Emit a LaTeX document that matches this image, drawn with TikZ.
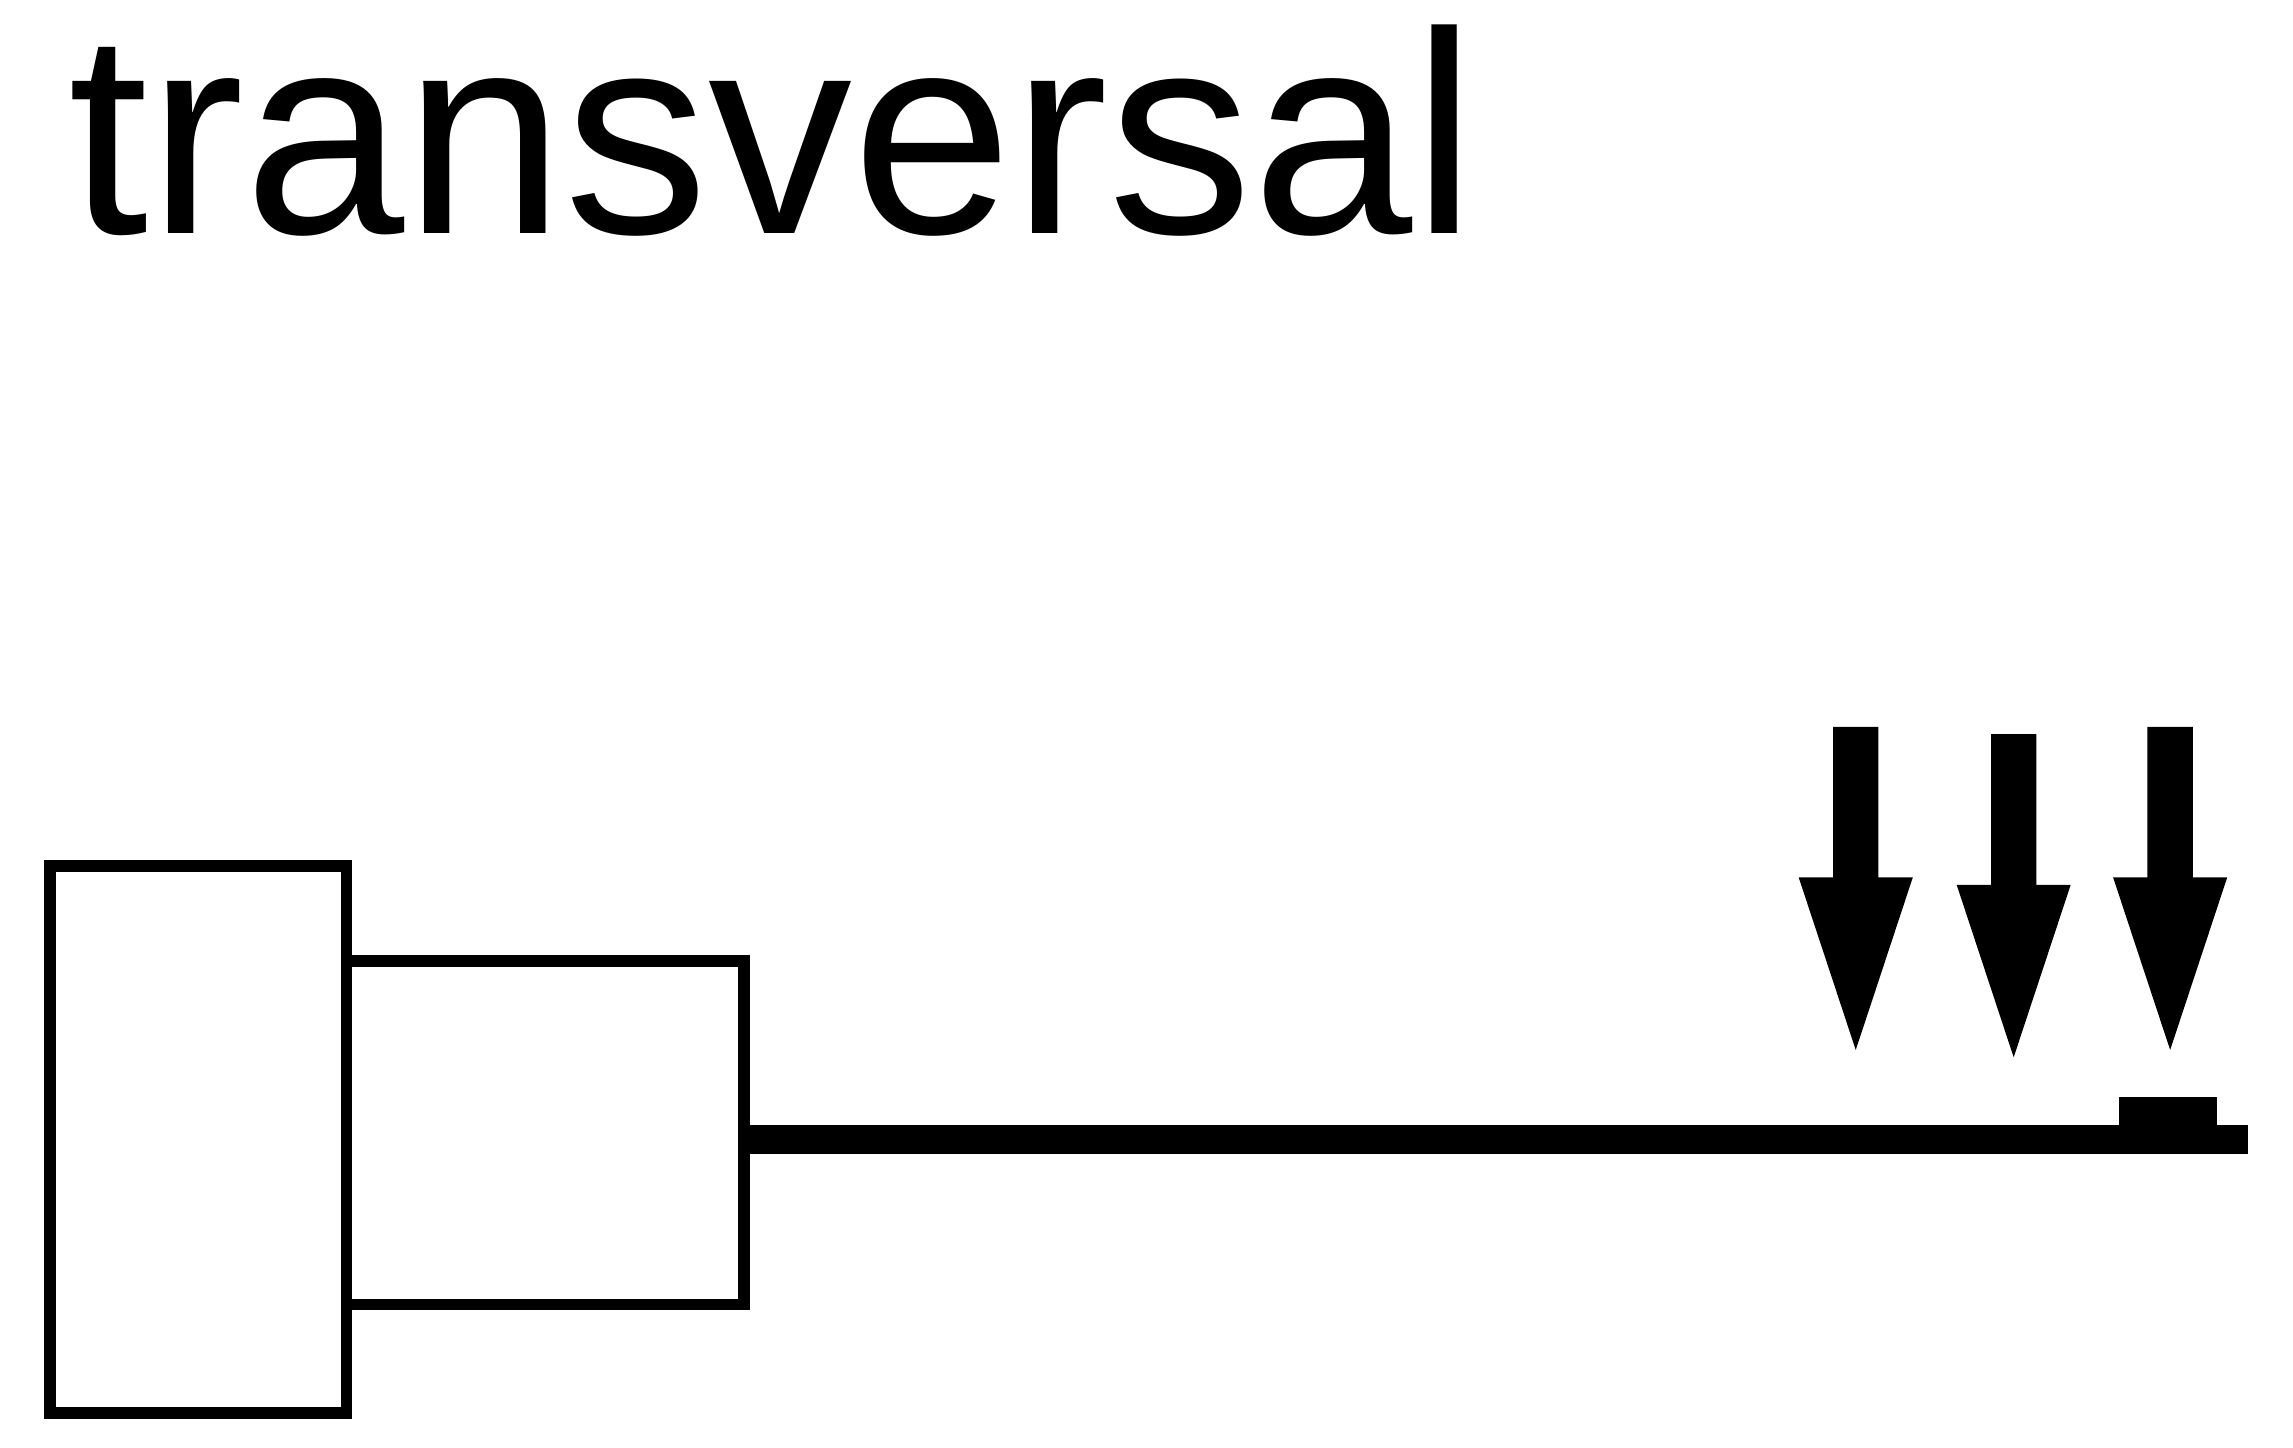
\documentclass[tikz,border=0pt]{standalone}
\usepackage{fontspec}
\setmainfont{Liberation Sans}
\tikzset{
  frame/.style={draw=black,line width=0.08cm},
  shaft/.style={fill=black},
  load/.style={fill=black}
}
\begin{document}
\begin{tikzpicture}[x=0.01cm,y=-0.01cm]
        \useasboundingbox (0,0) rectangle (1568,990);

        % title
        \node[anchor=base west,inner sep=0pt,font=\fontsize{56}{60}\selectfont] (title) at (46,160) {transversal};

        % bearing blocks
        \draw[frame] (34,592) rectangle (237,966);
        \draw[frame] (237,657) rectangle (509,892);

        % beam
        \fill[shaft] (509,769) rectangle (1537,789);
        \fill[shaft] (1449,750) rectangle (1516,779);

        % loads
        \foreach \x/\t in {1269/497, 1377/502, 1484/497}{
            \fill[load] (\x-15.5,\t) -- (\x+15.5,\t) -- (\x+15.5,\t+103) -- (\x+39,\t+103)
                -- (\x,\t+221) -- (\x-39,\t+103) -- (\x-15.5,\t+103) -- cycle;
        }

    \end{tikzpicture}
\end{document}
